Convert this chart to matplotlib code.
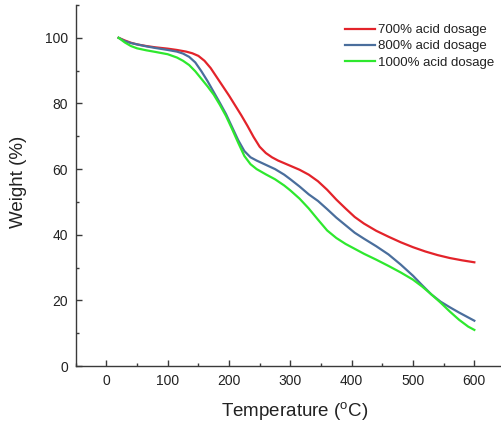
import matplotlib
matplotlib.use("Agg")
import matplotlib.pyplot as plt
from matplotlib.ticker import MultipleLocator

plt.rcParams['font.family'] = ['Liberation Sans', 'DejaVu Sans']

# TGA curves: temperature (°C) vs remaining weight (%)
temp_700 = [20, 30, 40, 50, 65, 80, 100, 115, 130, 140, 150, 160, 170, 180, 190, 200,
            210, 220, 230, 240, 250, 260, 270, 280, 290, 300, 315, 330, 345, 360, 375,
            390, 405, 420, 440, 460, 480, 500, 520, 540, 560, 580, 600]
weight_700 = [100, 99.2, 98.5, 98.0, 97.5, 97.1, 96.7, 96.3, 95.8, 95.3, 94.5, 93.0,
              90.8, 88.0, 85.2, 82.4, 79.4, 76.4, 73.2, 69.8, 66.8, 64.9, 63.6, 62.6,
              61.8, 61.0, 59.8, 58.3, 56.3, 53.7, 50.7, 48.0, 45.4, 43.4, 41.2, 39.4,
              37.7, 36.2, 34.9, 33.8, 32.9, 32.2, 31.6]

temp_800 = [20, 30, 40, 50, 65, 80, 100, 115, 125, 135, 145, 155, 165, 175, 185, 195,
            205, 215, 225, 235, 245, 260, 275, 290, 300, 315, 330, 345, 360, 375, 390,
            405, 420, 440, 460, 480, 500, 515, 530, 545, 560, 575, 590, 600]
weight_800 = [100, 99.0, 98.4, 98.0, 97.4, 96.9, 96.3, 95.8, 95.2, 94.2, 92.5, 89.8,
              86.8, 83.5, 80.2, 76.8, 72.8, 68.8, 65.5, 63.6, 62.6, 61.3, 60.0, 58.3,
              56.9, 54.7, 52.3, 50.3, 47.8, 45.2, 42.9, 40.6, 38.8, 36.5, 34.0, 30.9,
              27.5, 24.6, 21.8, 19.6, 17.9, 16.3, 14.8, 13.8]

temp_1000 = [20, 30, 40, 50, 65, 80, 100, 115, 125, 135, 145, 155, 165, 175, 185, 195,
             205, 215, 225, 235, 245, 260, 275, 290, 300, 315, 330, 345, 360, 375, 390,
             405, 420, 440, 460, 480, 500, 515, 530, 545, 560, 575, 590, 600]
weight_1000 = [100, 98.6, 97.5, 96.8, 96.2, 95.7, 95.0, 94.0, 93.0, 91.7, 89.8, 87.5,
               85.2, 82.7, 79.6, 76.2, 72.2, 68.0, 64.0, 61.5, 60.0, 58.4, 56.9, 55.0,
               53.5, 51.0, 48.0, 44.6, 41.3, 39.0, 37.2, 35.7, 34.2, 32.4, 30.5, 28.5,
               26.3, 24.2, 21.8, 19.3, 16.6, 14.1, 12.0, 11.0]

series = [
    (temp_700, weight_700, "700% acid dosage", "#e3232a"),
    (temp_800, weight_800, "800% acid dosage", "#4a6e9c"),
    (temp_1000, weight_1000, "1000% acid dosage", "#2ee82e"),
]

fig = plt.figure(figsize=(5.02, 4.25), dpi=100)
ax = fig.add_axes([75.7 / 502, 59 / 425, (505 - 75.7) / 502, (366 - 5) / 425])

for t, w, label, color in series:
    ax.plot(t, w, color=color, lw=1.6, label=label, solid_joinstyle="round")

ax.set_xlim(-50, 650)
ax.set_ylim(0, 110)
ax.xaxis.set_major_locator(MultipleLocator(100))
ax.xaxis.set_minor_locator(MultipleLocator(50))
ax.yaxis.set_major_locator(MultipleLocator(20))
ax.yaxis.set_minor_locator(MultipleLocator(10))

spine_color = "#3a3a3a"
for side in ("top", "right"):
    ax.spines[side].set_visible(False)
for side in ("left", "bottom"):
    ax.spines[side].set_color(spine_color)
    ax.spines[side].set_linewidth(1.0)

ax.tick_params(which="major", direction="in", length=4.5, width=1.0,
               color=spine_color, labelsize=10, labelcolor="#222222", pad=5.5)
ax.tick_params(which="minor", direction="in", length=2.5, width=1.0, color=spine_color)

ax.set_xlabel("Temperature ($\\mathregular{^{o}}$C)", fontsize=13.5, color="#222222")
ax.set_ylabel("Weight (%)", fontsize=13.5, color="#222222")
ax.yaxis.set_label_coords(-0.113, 0.511)
ax.xaxis.set_label_coords((295 - 75.7) / (505 - 75.7), -0.095)

leg = ax.legend(loc="upper left", bbox_to_anchor=(345 / 502, 1 - 24 / 425),
                bbox_transform=fig.transFigure, frameon=False, fontsize=9.5,
                handlelength=2.3, handletextpad=0.2, labelspacing=0.3,
                borderpad=0.0, borderaxespad=0.0)
for txt in leg.get_texts():
    txt.set_color("#222222")

fig.savefig("out.png", dpi=100, facecolor="white")
